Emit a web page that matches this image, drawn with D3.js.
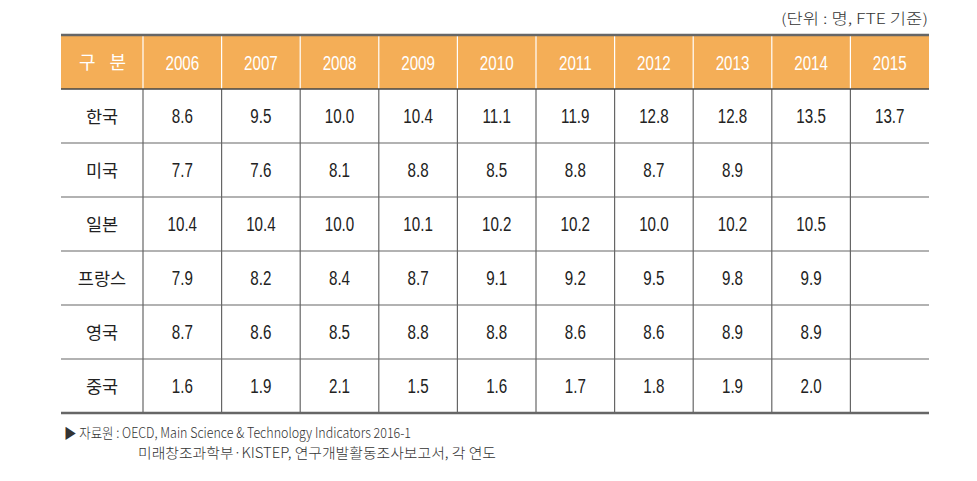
<!DOCTYPE html>
<html><head><meta charset="utf-8">
<script src="https://cdn.jsdelivr.net/npm/d3@7"></script>
<style>
html,body{margin:0;padding:0;background:#fff;}
svg{display:block;}
</style></head>
<body>
<svg id="chart" width="977" height="481"></svg>
<script>
const headerLabel = "구 분";
const years = ["2006","2007","2008","2009","2010","2011","2012","2013","2014","2015"];
const countries = ["한국","미국","일본","프랑스","영국","중국"];
const korea  = [8.6, 9.5, 10.0, 10.4, 11.1, 11.9, 12.8, 12.8, 13.5, 13.7];
const usa    = [7.7, 7.6, 8.1, 8.8, 8.5, 8.8, 8.7, 8.9, null, null];
const japan  = [10.4, 10.4, 10.0, 10.1, 10.2, 10.2, 10.0, 10.2, 10.5, null];
const france = [7.9, 8.2, 8.4, 8.7, 9.1, 9.2, 9.5, 9.8, 9.9, null];
const uk     = [8.7, 8.6, 8.5, 8.8, 8.8, 8.6, 8.6, 8.9, 8.9, null];
const china  = [1.6, 1.9, 2.1, 1.5, 1.6, 1.7, 1.8, 1.9, 2.0, null];
const unitNote = "(단위 : 명, FTE 기준)";
const sourceLines = ["▶ 자료원 : OECD, Main Science & Technology Indicators 2016-1",
                     "미래창조과학부·KISTEP, 연구개발활동조사보고서, 각 연도"];

(function(){
const rows = [korea, usa, japan, france, uk, china];

const svg = d3.select("#chart");
const left = 61, right = 929, firstColW = 82;
const tTop = 35, headerBottom = 89, tBottom = 413;

const x = d3.scaleBand().domain(years).range([left + firstColW, right]);
const y = d3.scaleBand().domain(countries).range([headerBottom, tBottom]);

const numFont = "'Liberation Sans',Arial,sans-serif";
const korFont = "'Noto Sans CJK KR','Noto Sans',sans-serif";
const lineColor = "#666";
const numSize = 20.5, numScale = 0.74;

svg.append("rect").attr("x", left).attr("y", tTop).attr("width", right-left)
  .attr("height", headerBottom-tTop).attr("fill", "#F4AE57");

svg.selectAll("line.hsep").data(years).enter().append("line")
  .attr("x1", d => x(d)).attr("x2", d => x(d))
  .attr("y1", tTop).attr("y2", headerBottom)
  .attr("stroke", "#fff").attr("stroke-width", 1.2);

svg.selectAll("line.vsep").data(years).enter().append("line")
  .attr("x1", d => x(d)).attr("x2", d => x(d))
  .attr("y1", headerBottom).attr("y2", tBottom)
  .attr("stroke", lineColor).attr("stroke-width", 1.2);

svg.selectAll("line.rsep").data(countries.slice(1)).enter().append("line")
  .attr("x1", left).attr("x2", right)
  .attr("y1", d => y(d)).attr("y2", d => y(d))
  .attr("stroke", lineColor).attr("stroke-width", 1.2);

svg.append("line").attr("x1", left).attr("x2", right)
  .attr("y1", headerBottom).attr("y2", headerBottom)
  .attr("stroke", "#444").attr("stroke-width", 1.4);

svg.append("line").attr("x1", left).attr("x2", right)
  .attr("y1", tTop).attr("y2", tTop).attr("stroke", lineColor).attr("stroke-width", 2.4);
svg.append("line").attr("x1", left).attr("x2", right)
  .attr("y1", tBottom).attr("y2", tBottom).attr("stroke", lineColor).attr("stroke-width", 2.4);

const hMid = (tTop + headerBottom) / 2;
svg.append("text").attr("x", left + firstColW/2 + 3).attr("y", hMid + 6.5)
  .attr("text-anchor","middle").attr("fill","#fff")
  .attr("font-family", korFont).attr("font-size", 18)
  .style("white-space","pre").style("letter-spacing","5px")
  .text(headerLabel);
svg.selectAll("text.year").data(years).enter().append("text")
  .attr("transform", d => `translate(${x(d) + x.bandwidth()/2},${hMid + 7.5}) scale(${numScale},1)`)
  .attr("text-anchor","middle").attr("fill","#fff")
  .attr("font-family", numFont).attr("font-size", numSize)
  .text(d => d);

svg.selectAll("text.cty").data(countries).enter().append("text")
  .attr("x", left + firstColW/2).attr("y", d => y(d) + y.bandwidth()/2 + 6.5)
  .attr("text-anchor","middle").attr("fill","#222")
  .attr("font-family", korFont).attr("font-size", 17.5)
  .text(d => d);

countries.forEach((c, i) => {
  svg.selectAll(null).data(rows[i].map((v, j) => ({v, yr: years[j]})).filter(d => d.v !== null))
    .enter().append("text")
    .attr("transform", d => `translate(${x(d.yr) + x.bandwidth()/2},${y(c) + y.bandwidth()/2 + 7.3}) scale(${numScale},1)`)
    .attr("text-anchor","middle").attr("fill","#222")
    .attr("font-family", numFont).attr("font-size", numSize)
    .text(d => d.v.toFixed(1));
});

svg.append("text").attr("x", 928).attr("y", 24).attr("text-anchor","end")
  .attr("fill","#333").attr("font-family", korFont).attr("font-size", 14.5)
  .attr("font-weight", 300)
  .attr("textLength", 147).attr("lengthAdjust","spacingAndGlyphs")
  .text(unitNote);

svg.append("text").attr("x", 64).attr("y", 438).attr("fill","#333")
  .attr("font-family", korFont).attr("font-size", 14).attr("font-weight", 300)
  .attr("textLength", 347).attr("lengthAdjust","spacingAndGlyphs")
  .text(sourceLines[0]);
svg.append("text").attr("x", 138).attr("y", 458).attr("fill","#333")
  .attr("font-family", korFont).attr("font-size", 14).attr("font-weight", 300)
  .attr("textLength", 358).attr("lengthAdjust","spacingAndGlyphs")
  .text(sourceLines[1]);
})();
</script>
</body></html>
